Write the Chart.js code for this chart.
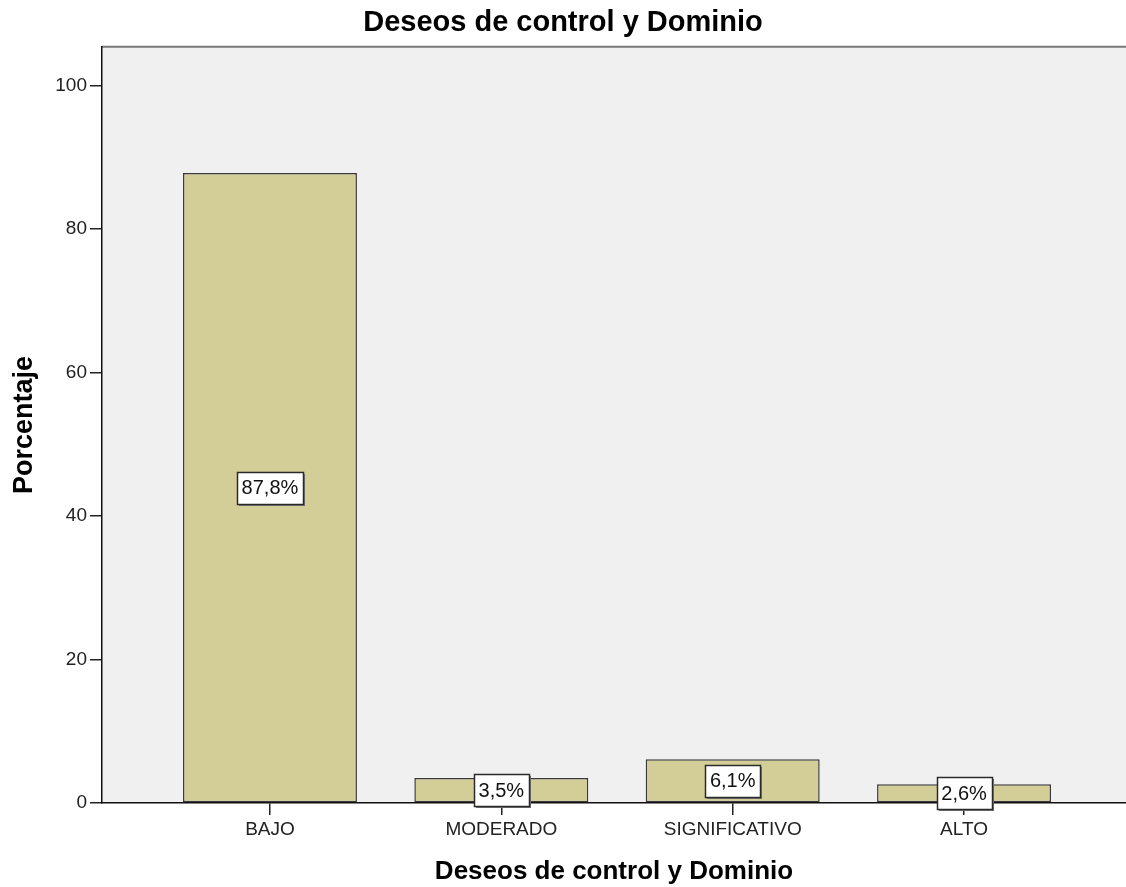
<!DOCTYPE html>
<html>
<head>
<meta charset="utf-8">
<script src="https://cdn.jsdelivr.net/npm/chart.js@4/dist/chart.umd.min.js"></script>
<style>
  html, body { margin: 0; padding: 0; background: #fff; }
  #wrap { width: 1126px; height: 887px; }
</style>
</head>
<body>
<div id="wrap"><canvas id="barChart" width="1126" height="887"></canvas></div>
<script>
// ===== DATA =====
const categories = ['BAJO', 'MODERADO', 'SIGNIFICATIVO', 'ALTO'];
const percentages = [87.8, 3.5, 6.1, 2.6];
const yTicks = [0, 20, 40, 60, 80, 100];
const chartTitle = 'Deseos de control y Dominio';
const xTitle = 'Deseos de control y Dominio';
const yTitle = 'Porcentaje';

const FONT = '"Liberation Sans", Arial, sans-serif';

// grey plot background + top frame line
const plotBg = {
  id: 'plotBg',
  beforeDraw(chart) {
    const { ctx, chartArea: a } = chart;
    ctx.save();
    ctx.fillStyle = '#f0f0f0';
    ctx.fillRect(a.left, a.top, a.right - a.left, a.bottom - a.top);
    ctx.strokeStyle = '#7a7a7a';
    ctx.lineWidth = 2;
    ctx.beginPath();
    ctx.moveTo(a.left, a.top);
    ctx.lineTo(a.right, a.top);
    ctx.stroke();
    ctx.restore();
  }
};

// boxed value labels in the middle of each bar
const boxLabels = {
  id: 'boxLabels',
  afterDatasetsDraw(chart) {
    const { ctx } = chart;
    const meta = chart.getDatasetMeta(0);
    ctx.save();
    ctx.font = '20px ' + FONT;
    ctx.textAlign = 'center';
    ctx.textBaseline = 'middle';
    meta.data.forEach((bar, i) => {
      const txt = percentages[i].toFixed(1).replace('.', ',') + '%';
      const cx = bar.x;
      const cy = (bar.y + bar.base) / 2;
      const w = Math.round(ctx.measureText(txt).width + 9);
      const h = 32;
      const x0 = Math.round(cx - w / 2) + 0.5;
      const y0 = Math.round(cy - h / 2) + 0.5;
      ctx.fillStyle = '#777777';
      ctx.fillRect(x0 + 1.5, y0 + 1.5, w, h);
      ctx.fillStyle = '#ffffff';
      ctx.fillRect(x0, y0, w, h);
      ctx.strokeStyle = '#2a2a2a';
      ctx.lineWidth = 1.5;
      ctx.strokeRect(x0, y0, w, h);
      ctx.fillStyle = '#111111';
      ctx.fillText(txt, cx, cy + 1);
    });
    ctx.restore();
  }
};

new Chart(document.getElementById('barChart'), {
  type: 'bar',
  data: {
    datasets: [{
      data: percentages.map((v, i) => ({ x: i, y: v })),
      backgroundColor: '#d3ce97',
      borderColor: '#3a3a3a',
      borderWidth: 1.5,
      borderSkipped: false,
      barPercentage: 0.752,
      categoryPercentage: 1
    }]
  },
  options: {
    responsive: false,
    animation: false,
    layout: { padding: 0 },
    plugins: {
      legend: { display: false },
      tooltip: { enabled: false },
      title: {
        display: true,
        text: chartTitle,
        color: '#000',
        font: { family: FONT, size: 29, weight: 'bold', lineHeight: 1.2 },
        padding: { top: 6, bottom: 6 }
      }
    },
    scales: {
      x: {
        type: 'linear',
        offset: false,
        min: -0.726,
        max: 3.70,
        afterBuildTicks: s => { s.ticks = categories.map((c, i) => ({ value: i })); },
        afterFit: s => { s.height = 84; },
        ticks: {
          color: '#222',
          font: { family: FONT, size: 19 },
          padding: 3,
          autoSkip: false,
          maxRotation: 0,
          callback: v => categories[v]
        },
        grid: { offset: false, drawOnChartArea: false, drawTicks: true, tickLength: 12, color: '#222', lineWidth: 1.5 },
        border: { display: true, color: '#111', width: 1.5 },
        title: {
          display: true,
          text: xTitle,
          color: '#000',
          font: { family: FONT, size: 26, weight: 'bold', lineHeight: 1.15 },
          padding: { top: 0, bottom: 0 }
        }
      },
      y: {
        min: 0,
        max: 105.4,
        afterBuildTicks: s => { s.ticks = yTicks.map(v => ({ value: v })); },
        afterFit: s => { s.width = 102; },
        ticks: {
          color: '#222',
          font: { family: FONT, size: 19 },
          padding: 3
        },
        grid: { drawOnChartArea: false, drawTicks: true, tickLength: 12, color: '#222', lineWidth: 1.5 },
        border: { display: true, color: '#111', width: 1.5 },
        title: {
          display: true,
          text: yTitle,
          color: '#000',
          font: { family: FONT, size: 27, weight: 'bold', lineHeight: 1.2 },
          padding: { top: 8, bottom: 0 }
        }
      }
    }
  },
  plugins: [plotBg, boxLabels]
});
</script>
</body>
</html>
